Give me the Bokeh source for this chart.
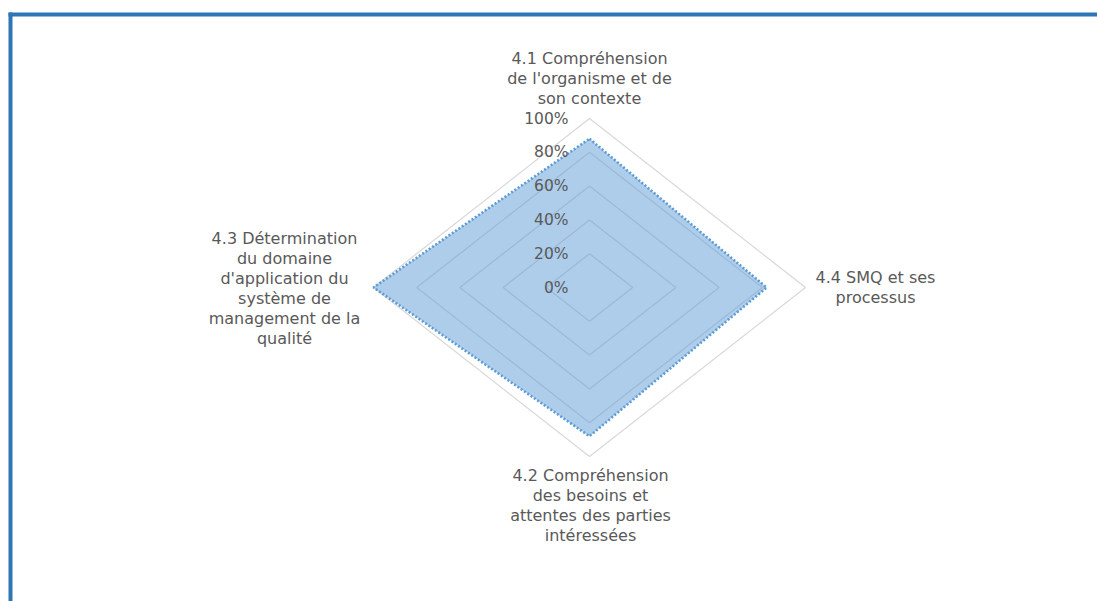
import numpy as np
from bokeh.plotting import figure
from bokeh.models import Range1d, ColumnDataSource
from bokeh.core.properties import value
from bokeh.embed import file_html
from bokeh.resources import INLINE

# ---- data ----
categories = [
    "4.1 Compréhension\nde l'organisme et de\nson contexte",
    "4.4 SMQ et ses\nprocessus",
    "4.2 Compréhension\ndes besoins et\nattentes des parties\nintéressées",
    "4.3 Détermination\ndu domaine\nd'application du\nsystème de\nmanagement de la\nqualité",
]
values = [0.88, 0.82, 0.88, 1.00]
tick_values = [0.0, 0.2, 0.4, 0.6, 0.8, 1.0]
tick_labels = ["0%", "20%", "40%", "60%", "80%", "100%"]

# ---- layout (pixels) ----
W, H = 1097, 601
CX, CY = 589, 287      # centre of the radar in pixels
RX, RY = 216, 169      # pixel radius of 100% horizontally / vertically

def px(x):
    return (x - CX) / RX

def py(y):
    return (CY - y) / RY

p = figure(width=W, height=H, output_backend="svg", toolbar_location=None,
           x_range=Range1d(px(0), px(W)), y_range=Range1d(py(H), py(0)),
           min_border=0, border_fill_color="white", background_fill_color="white")
p.axis.visible = False
p.grid.visible = False
p.outline_line_color = None

# angles: top, right, bottom, left (clockwise from top)
n = len(categories)
ang = np.pi / 2 - np.arange(n) * 2 * np.pi / n
cosA, sinA = np.cos(ang), np.sin(ang)

# grid rings
for i, t in enumerate(tick_values[1:]):
    xs = list(t * cosA) + [t * cosA[0]]
    ys = list(t * sinA) + [t * sinA[0]]
    p.line(xs, ys, line_color="#d9d9d9", line_width=1.3)

# data polygon
vals = np.array(values)
dx = vals * cosA
dy = vals * sinA
p.patch(list(dx), list(dy), fill_color="#5b9bd5", fill_alpha=0.5, line_color=None)
p.line(list(dx) + [dx[0]], list(dy) + [dy[0]], line_color="#5b9bd5", line_width=2.6,
       line_dash="2 2", line_cap="butt")

# tick labels along top spoke (left of it)
p.text(x=[0] * len(tick_values), y=tick_values, text=tick_labels,
       x_offset=-21, text_align="right", text_baseline="middle",
       text_font=value("DejaVu Sans"), text_font_size="15.5px", text_color="#595959")

# category labels
lab_src = ColumnDataSource(dict(
    x=[cosA[0], cosA[1], cosA[2], cosA[3]],
    y=[sinA[0], sinA[1], sinA[2], sinA[3]],
    text=categories,
    xo=[0, 70, 1, -89],
    yo=[-10, 0, 9, -59],
    base=["bottom", "middle", "top", "top"],
))
p.text(x="x", y="y", text="text", x_offset="xo", y_offset="yo", source=lab_src,
       text_align="center", text_baseline="base", text_line_height=1.06,
       text_font=value("DejaVu Sans"), text_font_size="16px", text_color="#595959")

# blue frame (top and left)
p.quad(left=[px(8), px(8)], right=[px(12), px(W)], top=[py(12), py(12)],
       bottom=[py(H), py(16)], fill_color="#2e75b6", line_color=None)

open("out.html", "w").write(file_html(p, INLINE))
